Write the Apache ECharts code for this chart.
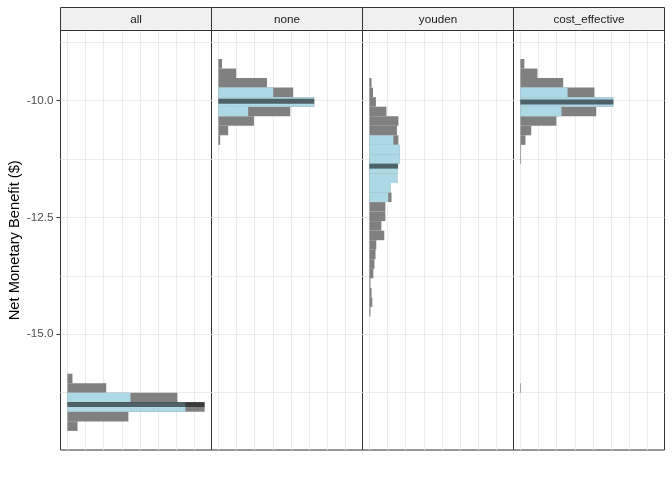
<!DOCTYPE html>
<html><head><meta charset="utf-8">
<script src="https://cdn.jsdelivr.net/npm/echarts@6/dist/echarts.min.js"></script>
<style>html,body{margin:0;padding:0;background:#fff}#c{width:672px;height:480px}</style>
</head><body><div id="c"></div><script>
// ---- data ----
const facets = ['all', 'none', 'youden', 'cost_effective'];
const binOrigin = -17.068;   // lower edge of histogram bin 0
const binWidth = 0.204;
// grey histogram: counts of every bin, starting at histFirstBin
const histFirstBin = [0, 30, 12, 4];
const histAll = [28, 168, 378, 303, 107, 14];
const histNone = [5, 27, 98, 198, 264, 206, 134, 49, 10];
const histYouden = [3, 8, 6, 3, 11, 14, 17, 19, 41, 33, 44, 44, 61, 58, 77, 79, 84, 84, 80, 76, 80, 47, 18, 10, 6];
const histCost = [2, 0, 0, 0, 0, 0, 0, 0, 0, 0, 0, 0, 0, 0, 0, 0, 0, 0, 0, 0, 0, 0, 0, 0, 2, 2, 14, 30, 99, 209, 256, 204, 118, 47, 11];
// light-blue part: counts inside the interval
const intervalFirstBin = [2, 33, 24, 33];
const intervalAll = [325, 174];
const intervalNone = [82, 264, 151];
const intervalYouden = [52, 58, 77, 79, 84, 84, 66];
const intervalCost = [113, 256, 130];
// medians
const medians = [-16.503, -10.017, -11.404, -10.032];
// axes
const yRange = [-17.476, -8.502];
const yTickValues = [-15, -12.5, -10];
const yGridValues = [-16.25, -15, -13.75, -12.5, -11.25, -10, -8.75];
const xGridValues = [0, 50, 100, 150, 200, 250, 300, 350];

const hists = [histAll, histNone, histYouden, histCost];
const intervals = [intervalAll, intervalNone, intervalYouden, intervalCost];

// ---- layout ----
const FONT = '"Liberation Sans", Arial, sans-serif';
const panelLeft0 = 60.5, panelW = 151, panelTop = 30.5, panelH = 419.5;
const maxCount = Math.max(...hists.map(h => Math.max(...h)));
const xRange = [-0.05 * maxCount, 1.05 * maxCount];

function toBins(first, counts) {
  const out = [];
  counts.forEach((c, i) => {
    if (c > 0) {
      const k = first + i;
      out.push([binOrigin + k * binWidth, binOrigin + (k + 1) * binWidth, c]);
    }
  });
  return out;
}
function rectRender(color) {
  return function (params, api) {
    const lo = api.value(0), hi = api.value(1), c = api.value(2);
    const p0 = api.coord([0, hi]);
    const p1 = api.coord([c, lo]);
    return { type: 'rect', shape: { x: p0[0], y: p0[1], width: p1[0] - p0[0], height: p1[1] - p0[1] },
      style: { fill: color } };
  };
}
function medianRender(params, api) {
  const m = api.value(0), c = api.value(1);
  const p0 = api.coord([0, m]);
  const p1 = api.coord([c, m]);
  return { type: 'rect', shape: { x: p0[0], y: p0[1] - 2.5, width: p1[0] - p0[0], height: 5 },
    style: { fill: 'rgba(0,0,0,0.55)' } };
}

const grids = [], xAxes = [], yAxes = [], series = [], graphics = [];
facets.forEach((name, i) => {
  const left = panelLeft0 + i * panelW;
  grids.push({ left: left, top: panelTop, width: panelW, height: panelH, show: true,
    borderColor: '#333333', borderWidth: 1, backgroundColor: '#ffffff' });
  xAxes.push({ type: 'value', gridIndex: i, min: xRange[0], max: xRange[1],
    axisLine: { show: false }, axisLabel: { show: false },
    axisTick: { show: false, customValues: xGridValues },
    splitLine: { show: true, lineStyle: { color: '#EBEBEB', width: 1 } } });
  yAxes.push({ type: 'value', gridIndex: i, position: 'left', min: yRange[0], max: yRange[1],
    axisLine: { show: false }, axisLabel: { show: false },
    axisTick: { show: false, customValues: yGridValues },
    splitLine: { show: true, lineStyle: { color: '#EBEBEB', width: 1 } } });

  const bins = toBins(histFirstBin[i], hists[i]);
  const ib = toBins(intervalFirstBin[i], intervals[i]);
  series.push({ type: 'custom', xAxisIndex: i, yAxisIndex: i, renderItem: rectRender('#808080'),
    encode: { x: 2, y: [0, 1] }, data: bins, silent: true, animation: false });
  series.push({ type: 'custom', xAxisIndex: i, yAxisIndex: i, renderItem: rectRender('#ADD8E6'),
    encode: { x: 2, y: [0, 1] }, data: ib, silent: true, animation: false });
  // median line across the bin that holds the median
  const k = Math.floor((medians[i] - binOrigin) / binWidth);
  const mc = hists[i][k - histFirstBin[i]];
  series.push({ type: 'custom', xAxisIndex: i, yAxisIndex: i, renderItem: medianRender,
    encode: { x: 1, y: 0 }, data: [[medians[i], mc]], silent: true, animation: false });

  // strip
  graphics.push({ type: 'rect', shape: { x: left, y: 7.5, width: panelW, height: 23 },
    style: { fill: '#F0F0F0', stroke: '#333333', lineWidth: 1 }, z: 10 });
  graphics.push({ type: 'text', x: left + panelW / 2, y: 19.5,
    style: { text: name, font: '11.7px ' + FONT, fill: '#1A1A1A', align: 'center', verticalAlign: 'middle' }, z: 11 });
});
// labelled y axis on first panel
yAxes.push({ type: 'value', gridIndex: 0, position: 'left', offset: 0, min: yRange[0], max: yRange[1],
  name: 'Net Monetary Benefit ($)', nameLocation: 'middle', nameGap: 38,
  nameTextStyle: { fontFamily: FONT, fontSize: 14.7, color: '#000000' },
  axisLine: { show: false },
  axisTick: { show: true, length: 4, customValues: yTickValues, lineStyle: { color: '#333333', width: 1 } },
  axisLabel: { show: true, customValues: yTickValues, margin: 7, fontFamily: FONT, fontSize: 11.7, color: '#4D4D4D',
    formatter: v => v.toFixed(1) },
  splitLine: { show: false } });

const chart = echarts.init(document.getElementById('c'), null, { renderer: 'canvas' });
chart.setOption({ animation: false, backgroundColor: '#ffffff', grid: grids, xAxis: xAxes, yAxis: yAxes,
  series: series, graphic: graphics });
</script></body></html>
